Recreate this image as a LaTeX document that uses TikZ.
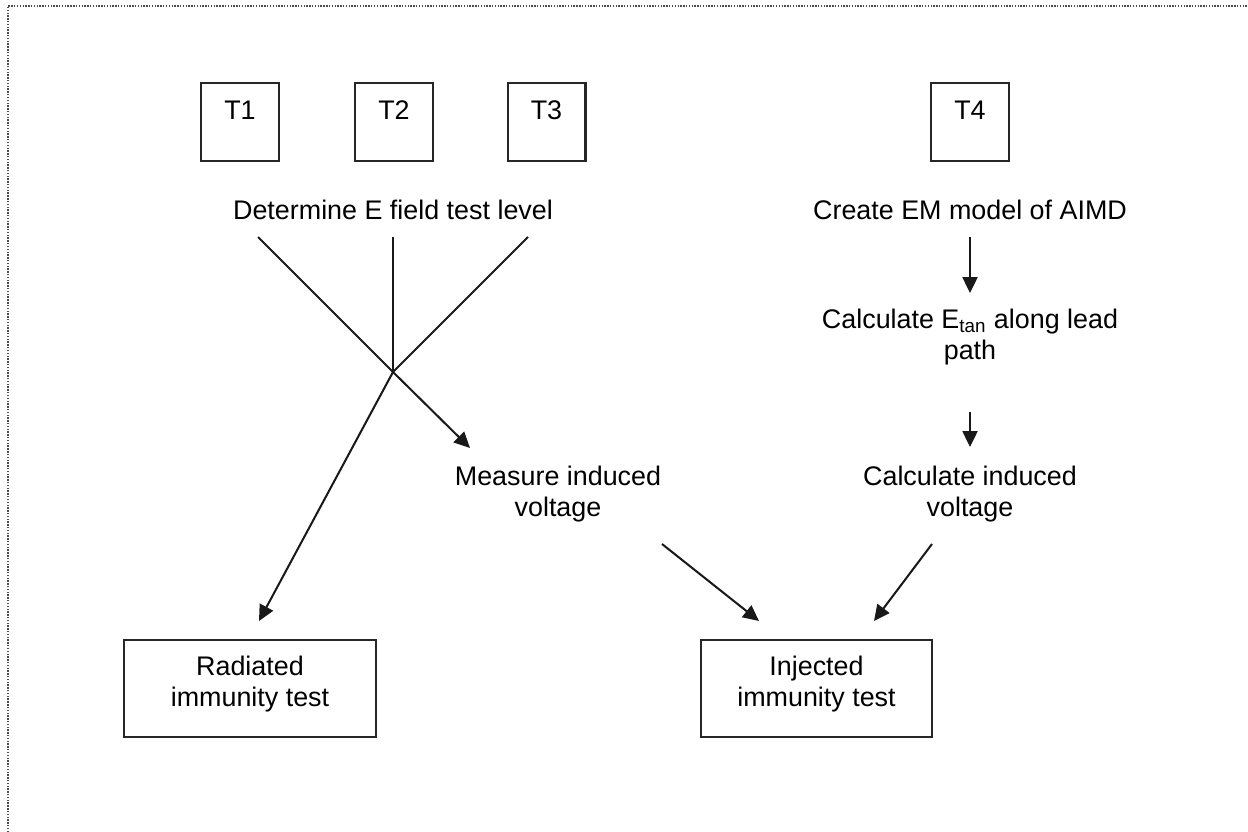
\documentclass[tikz,border=0pt]{standalone}
\usepackage{fontspec}
\setmainfont{Liberation Sans}
\usetikzlibrary{arrows.meta}
\begin{document}
\begin{tikzpicture}[x=0.02cm,y=-0.02cm,
  txt/.style={font=\fontsize{15.3}{17.5}\selectfont, inner sep=0pt, align=center},
  tbox/.style={txt, draw=black!85, line width=1.15pt, minimum width=1.56cm,
    minimum height=1.56cm, text height=0.38cm, text depth=0.5cm},
  bigbox/.style={txt, draw=black!85, line width=1.15pt, minimum height=1.94cm,
    text depth=8pt},
  conn/.style={line width=1.15pt, black!90},
  arr/.style={conn, -{Triangle[length=9pt,width=8.5pt]}}]
\useasboundingbox (0,0) rectangle (1248,832);

% dotted frame
\draw[black!70, line width=0.8pt, dash pattern=on 0.8pt off 0.8pt]
  (8,832) -- (8,6) -- (1248,6);

% test categories
\node[tbox] (t1) at (240,122) {T1};
\node[tbox] (t2) at (394,122) {T2};
\node[tbox] (t3) at (546.5,122) {T3};
\node[tbox] (t4) at (970,122) {T4};

% process steps
\node[txt] (det) at (393,210) {Determine E field test level};
\node[txt] (cem) at (970,210) {Create EM model of AIMD};
\node[txt] (etan) at (970,337) {Calculate E\textsubscript{tan} along lead\\path};
\node[txt] (civ) at (970,494) {Calculate induced\\voltage};
\node[txt] (miv) at (558,494) {Measure induced\\voltage};

% tests
\node[bigbox, minimum width=5.04cm] (rad) at (250,688.5) {Radiated\\immunity test};
\node[bigbox, minimum width=4.62cm] (inj) at (816.5,688.5) {Injected\\immunity test};

% connector end points
\coordinate (d1) at (258,237);
\coordinate (d2) at (393,237);
\coordinate (d3) at (528,237);
\coordinate (cx) at (393,372);
\coordinate (mtip) at (470,448);
\coordinate (rtip) at (259,621);
\coordinate (m1) at (662,544);
\coordinate (m2) at (759,621);
\coordinate (c1) at (932,544);
\coordinate (c2) at (874,621);
\coordinate (e1) at (970,237);
\coordinate (e2) at (970,293);
\coordinate (v1) at (970,412);
\coordinate (v2) at (970,447);

% crossing lines from the field level
\draw[arr] (d1) -- (cx) -- (mtip);
\draw[conn] (d2) -- (cx);
\draw[arr] (d3) -- (cx) -- (rtip);

% modelling chain
\draw[arr] (e1) -- (e2);
\draw[arr] (v1) -- (v2);

% towards the injected test
\draw[arr] (m1) -- (m2);
\draw[arr] (c1) -- (c2);
\end{tikzpicture}
\end{document}
